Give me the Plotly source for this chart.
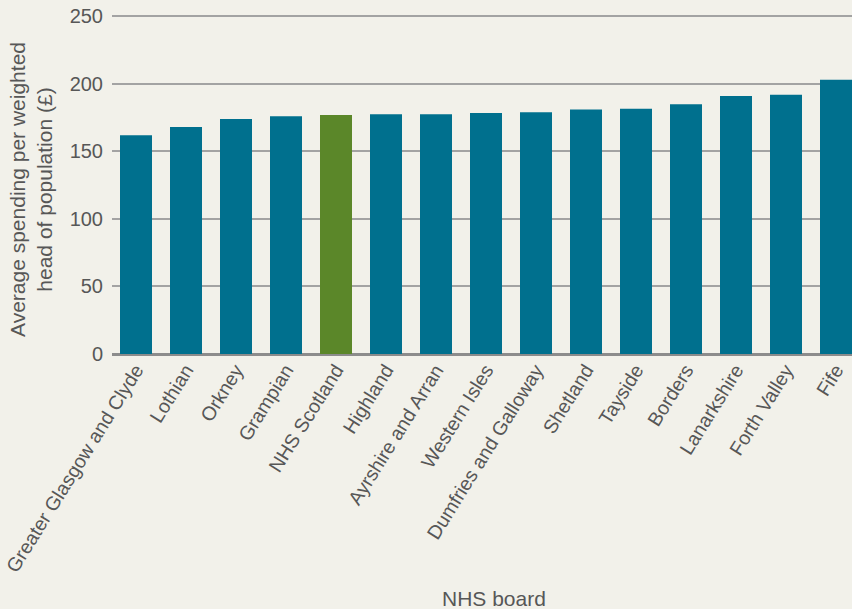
import plotly.graph_objects as go

boards = ["Greater Glasgow and Clyde", "Lothian", "Orkney", "Grampian", "NHS Scotland",
          "Highland", "Ayrshire and Arran", "Western Isles", "Dumfries and Galloway",
          "Shetland", "Tayside", "Borders", "Lanarkshire", "Forth Valley", "Fife"]
spending = [162, 168, 174, 176, 177, 177.5, 177.5, 178.5, 179, 181, 181.5, 185, 191, 192, 203]
y_ticks = [0, 50, 100, 150, 200, 250]

TEAL = "#00708e"
GREEN = "#5b8729"
colors = [GREEN if b == "NHS Scotland" else TEAL for b in boards]

BG = "#f2f1ea"
TXT = "#575757"
FONT = "Liberation Sans"
FS = 19.5
FT = 21

fig = go.Figure(go.Bar(x=boards, y=spending, marker=dict(color=colors, line=dict(width=0)),
                       width=0.64))

fig.update_layout(
    width=852, height=609,
    paper_bgcolor=BG, plot_bgcolor=BG,
    margin=dict(l=112, r=0, t=15, b=255, autoexpand=False),
    font=dict(family=FONT, size=FS, color=TXT),
    showlegend=False,
    bargap=0.36,
)
fig.update_xaxes(range=[-0.48, 14.32], tickangle=-58, showgrid=False, showline=False,
                 ticks="", automargin=False, tickfont=dict(size=FS, color=TXT))
fig.update_yaxes(range=[0, 251], tickvals=y_ticks, showgrid=True, gridcolor="#a3a3a3",
                 gridwidth=1.5, zeroline=True, zerolinecolor="#8c8c8c", zerolinewidth=3,
                 ticks="", ticklabelstandoff=8, automargin=False, showline=False,
                 tickfont=dict(size=20, color=TXT))

fig.add_annotation(text="Average spending per weighted<br>head of population (£)",
                   xref="paper", yref="paper", x=(31 - 112) / 740, y=(354 - 190) / 339,
                   textangle=-90, showarrow=False, font=dict(size=FT, color=TXT),
                   xanchor="center", yanchor="middle")
fig.add_annotation(text="NHS board", xref="paper", yref="paper",
                   x=(494 - 112) / 740, y=(354 - 598) / 339, showarrow=False,
                   font=dict(size=FT, color=TXT), xanchor="center", yanchor="middle")

fig.write_html("out.html", config={"displayModeBar": False},
               post_script="document.body.style.margin='0';document.body.style.background='%s';" % BG)
